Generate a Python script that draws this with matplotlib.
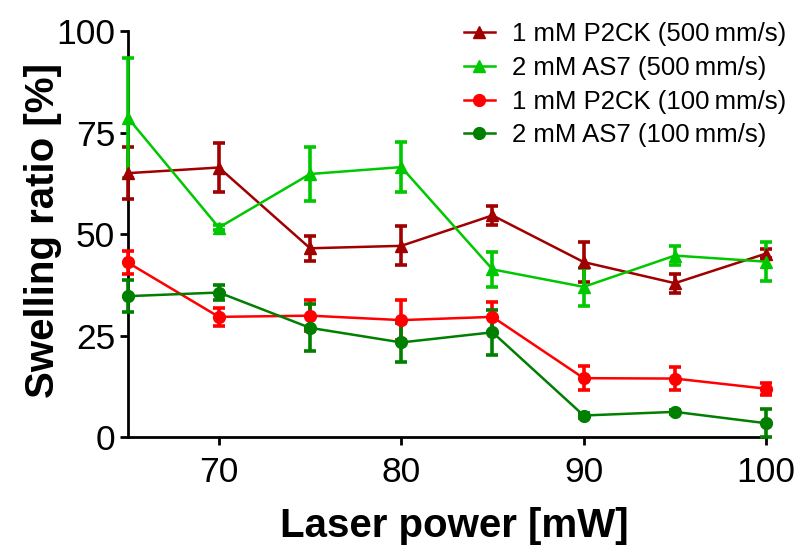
import matplotlib
matplotlib.use("Agg")
import matplotlib.pyplot as plt

plt.rcParams['font.family'] = ['Liberation Sans', 'DejaVu Sans']

# Laser power settings [mW]
power = [65, 70, 75, 80, 85, 90, 95, 100]

# Swelling ratio [%] (mean and error) per formulation / writing speed
p2ck_500 = [65.0, 66.4, 46.5, 47.1, 54.6, 43.1, 37.9, 45.2]
p2ck_500_err = [6.4, 6.0, 3.1, 4.8, 2.4, 5.0, 2.3, 1.0]

as7_500 = [78.7, 51.6, 64.8, 66.5, 41.3, 37.0, 44.7, 43.2]
as7_500_err = [14.8, 0.6, 6.6, 6.1, 4.3, 4.7, 2.4, 4.8]

p2ck_100 = [43.0, 29.6, 29.9, 28.8, 29.6, 14.5, 14.4, 11.9]
p2ck_100_err = [2.9, 2.3, 3.9, 4.9, 3.7, 2.9, 2.9, 1.5]

as7_100 = [34.7, 35.6, 26.9, 23.3, 25.8, 5.3, 6.2, 3.4]
as7_100_err = [3.9, 1.8, 5.8, 4.7, 5.5, 0.5, 0.5, 3.5]

series = [
    ("1 mM P2CK (500\u2009mm/s)", p2ck_500, p2ck_500_err, "#A00000", "^"),
    ("2 mM AS7 (500\u2009mm/s)", as7_500, as7_500_err, "#00C800", "^"),
    ("1 mM P2CK (100\u2009mm/s)", p2ck_100, p2ck_100_err, "#FF0000", "o"),
    ("2 mM AS7 (100\u2009mm/s)", as7_100, as7_100_err, "#007F00", "o"),
]

fig = plt.figure(figsize=(7.98, 5.46), dpi=100)
ax = fig.add_axes([0.160, 0.1996, 0.800, 0.7434])

handles = []
for label, vals, errs, color, marker in series:
    cont = ax.errorbar(power, vals, yerr=errs, color=color, marker=marker,
                       markersize=8 if marker == "^" else 8.5, linewidth=1.8,
                       elinewidth=2.6, capsize=4.5, capthick=2.6,
                       label=label, clip_on=False, zorder=3)
    handles.append(cont.lines[0])

ax.set_xlim(65, 100)
ax.set_ylim(0, 100)
ax.set_xticks([70, 80, 90, 100])
ax.set_yticks([0, 25, 50, 75, 100])

for side in ("top", "right"):
    ax.spines[side].set_visible(False)
for side in ("left", "bottom"):
    ax.spines[side].set_linewidth(2.0)

ax.tick_params(axis="both", direction="out", length=6, width=2.0,
               labelsize=25.5, colors="black")
ax.tick_params(axis="x", pad=8)
ax.tick_params(axis="y", pad=3)

ax.set_xlabel("Laser power [mW]", fontsize=29, fontweight="bold")
ax.set_ylabel("Swelling ratio [%]", fontsize=29, fontweight="bold")
ax.xaxis.set_label_coords(0.511, -0.172)
ax.yaxis.set_label_coords(-0.103, 0.51)

leg = ax.legend(handles=handles, labels=[s[0] for s in series],
                loc="upper right", bbox_to_anchor=(1.055, 1.06), frameon=False,
                fontsize=18.5, handlelength=1.2, handletextpad=0.66,
                labelspacing=0.38, borderaxespad=0.2)

fig.savefig("out.png", dpi=100)
